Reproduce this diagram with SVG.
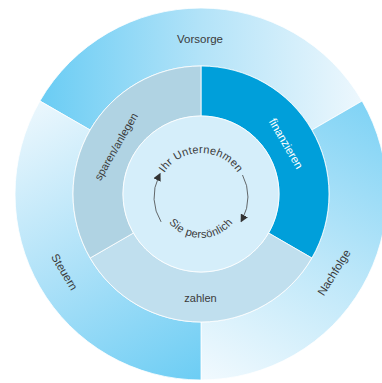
<svg xmlns="http://www.w3.org/2000/svg" width="382" height="383" viewBox="0 0 382 383">
<defs>
<style>
.seg{stroke:#ffffff;stroke-width:0.8}
.lbl{font-family:"Liberation Sans","DejaVu Sans",sans-serif;font-size:11.5px;fill:#3a3a3a;text-anchor:middle}
.inner{font-family:"Liberation Sans","DejaVu Sans",sans-serif;font-size:11px;letter-spacing:0.3px;fill:#3a3a3a}
.cyc{fill:none;stroke:#444444;stroke-width:0.8}
</style>
<linearGradient id="gVor" gradientUnits="userSpaceOnUse" x1="45" y1="110" x2="360" y2="110">
<stop offset="0" stop-color="#6ccdf4"/>
<stop offset="0.5" stop-color="#b3e3f8"/>
<stop offset="1" stop-color="#ecf7fd"/>
</linearGradient>
<linearGradient id="gNach" gradientUnits="userSpaceOnUse" x1="362" y1="101" x2="205" y2="378">
<stop offset="0" stop-color="#80d3f5"/>
<stop offset="0.5" stop-color="#bde7f9"/>
<stop offset="1" stop-color="#f0f9fe"/>
</linearGradient>
<linearGradient id="gSt" gradientUnits="userSpaceOnUse" x1="201" y1="380" x2="40" y2="101">
<stop offset="0" stop-color="#6ccdf4"/>
<stop offset="0.5" stop-color="#ade1f8"/>
<stop offset="1" stop-color="#ebf7fd"/>
</linearGradient>
<marker id="ah" viewBox="0 0 10 10" refX="5" refY="5" markerWidth="8" markerHeight="8" markerUnits="userSpaceOnUse" orient="auto">
<path d="M0,0 L10,5 L0,10 Z" fill="#333333"/>
</marker>
<path id="topArc" d="M157,197 A44,44 0 0 1 245,197"/>
<path id="botArc" d="M160,197 A41,41 0 0 0 242,197"/>
</defs>
<g id="outer-vorsorge">
<path class="seg" fill="url(#gVor)" d="M39.92,101 A186,186 0 0 1 362.08,101 L311.85,130 A128,128 0 0 0 90.15,130 Z"/>
<text class="lbl" x="200" y="43">Vorsorge</text>
</g>
<g id="outer-nachfolge">
<path class="seg" fill="url(#gNach)" d="M362.08,101 A186,186 0 0 1 201,380 L201,322 A128,128 0 0 0 311.85,130 Z"/>
<text class="lbl" transform="translate(334,272.5) rotate(-58)" dy="0.35em">Nachfolge</text>
</g>
<g id="outer-steuern">
<path class="seg" fill="url(#gSt)" d="M201,380 A186,186 0 0 1 39.92,101 L90.15,130 A128,128 0 0 0 201,322 Z"/>
<text class="lbl" transform="translate(64.5,272) rotate(59)" dy="0.35em">Steuern</text>
</g>
<g id="mid-finanzieren">
<path class="seg" fill="#009fda" d="M201,66 A128,128 0 0 1 311.85,258 L268.55,233 A78,78 0 0 0 201,116 Z"/>
<text class="lbl" style="fill:#ffffff" transform="translate(286,143.5) rotate(60)" dy="0.35em">finanzieren</text>
</g>
<g id="mid-zahlen">
<path class="seg" fill="#c0dfee" d="M311.85,258 A128,128 0 0 1 90.15,258 L133.45,233 A78,78 0 0 0 268.55,233 Z"/>
<text class="lbl" style="font-size:11px" x="200.5" y="302">zahlen</text>
</g>
<g id="mid-sparen">
<path class="seg" fill="#b0d3e3" d="M90.15,258 A128,128 0 0 1 201,66 L201,116 A78,78 0 0 0 133.45,233 Z"/>
<text class="lbl" style="font-size:11px" transform="translate(116,146.5) rotate(-60)" dy="0.35em">sparen/anlegen</text>
</g>
<g id="center">
<circle cx="201" cy="194" r="78" fill="#d5eefa" class="seg"/>
<text class="inner"><textPath href="#topArc" startOffset="50%" text-anchor="middle">Ihr Unternehmen</textPath></text>
<text class="inner"><textPath href="#botArc" startOffset="50%" text-anchor="middle">Sie persönlich</textPath></text>
</g>
<g id="connectors">
<path class="cyc" d="M161.1,221.9 A47,47 0 0 1 158.8,176.4" marker-end="url(#ah)"/>
<path class="cyc" d="M242.5,175 A47,47 0 0 1 242.5,219" marker-end="url(#ah)"/>
</g>
</svg>
